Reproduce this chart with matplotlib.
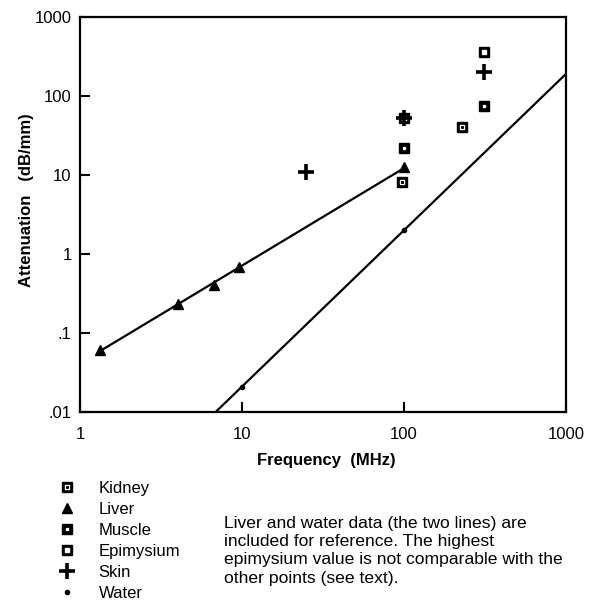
import numpy as np
import matplotlib
matplotlib.use('Agg')
import matplotlib.pyplot as plt
from matplotlib.legend_handler import HandlerTuple

plt.rcParams['font.family'] = ['Liberation Sans', 'DejaVu Sans']

# data (frequency in MHz, attenuation in dB/mm)
kidney_f = [97, 227]
kidney_a = [8.1, 40]
liver_f = [1.32, 4.0, 6.7, 9.6, 100]
liver_a = [0.061, 0.23, 0.40, 0.69, 12.5]
muscle_f = [100, 312]
muscle_a = [22, 75]
epimysium_f = [100, 312]
epimysium_a = [53, 364]
skin_f = [25, 100, 312]
skin_a = [10.9, 53, 203]
water_f = [10, 100]
water_a = [0.021, 2.0]

x_ticks = [1, 10, 100, 1000]
x_ticklabels = ['1', '10', '100', '1000']
y_ticks = [0.01, 0.1, 1, 10, 100, 1000]
y_ticklabels = ['.01', '.1', '1', '10', '100', '1000']

legend_labels = ['Kidney', 'Liver', 'Muscle', 'Epimysium', 'Skin', 'Water']
note = ('Liver and water data (the two lines) are\n'
        'included for reference. The highest\n'
        'epimysium value is not comparable with the\n'
        'other points (see text).')

W, H = 595, 604
fig = plt.figure(figsize=(W / 100, H / 100), dpi=100)
ax = fig.add_axes([80 / W, 1 - 412 / H, 486 / W, 395 / H])
ax.set_xscale('log')
ax.set_yscale('log')
ax.set_xlim(1, 1000)
ax.set_ylim(0.01, 1000)

## fitted lines in log space for liver and water
lf = np.polyfit(np.log10(liver_f), np.log10(liver_a), 1)
fx = np.array([min(liver_f), max(liver_f)])
ax.plot(fx, 10 ** np.polyval(lf, np.log10(fx)), color='black', lw=1.6, zorder=2)
wf = np.polyfit(np.log10(water_f), np.log10(water_a), 1)
wx = np.logspace(0.5, 3, 50)
ax.plot(wx, 10 ** np.polyval(wf, np.log10(wx)), color='black', lw=1.6, zorder=2)

sq = dict(marker='s', ls='none', color='black', ms=6.5, zorder=3)
h_kid = ax.plot(kidney_f, kidney_a, **sq)[0]
h_kid2 = ax.plot(kidney_f, kidney_a, marker='s', ls='none', color='white', ms=3.0, zorder=4)[0]
h_kid3 = ax.plot(kidney_f, kidney_a, marker='s', ls='none', color='black', ms=1.2, zorder=4)[0]
h_liv = ax.plot(liver_f, liver_a, marker='^', ls='none', color='black', ms=7.5, zorder=3)[0]
h_mus = ax.plot(muscle_f, muscle_a, **sq)[0]
h_mus2 = ax.plot(muscle_f, muscle_a, marker='s', ls='none', color='white', ms=1.4, zorder=4)[0]
h_epi = ax.plot(epimysium_f, epimysium_a, **sq)[0]
h_epi2 = ax.plot(epimysium_f, epimysium_a, marker='s', ls='none', color='white', ms=3.0, zorder=4)[0]
h_skin = ax.plot(skin_f, skin_a, marker='+', ls='none', color='black', ms=11, mew=2.6, zorder=5)[0]
h_wat = ax.plot(water_f, water_a, marker='o', ls='none', color='black', ms=3, zorder=3)[0]

ax.set_xticks(x_ticks)
ax.set_xticklabels(x_ticklabels)
ax.set_yticks(y_ticks)
ax.set_yticklabels(y_ticklabels)
ax.minorticks_off()
ax.tick_params(direction='in', length=7, width=1.5, labelsize=12)
ax.tick_params(axis='x', pad=11)
ax.tick_params(axis='y', pad=6)
for s in ax.spines.values():
    s.set_linewidth(1.6)

fig.text(27 / W, 1 - 200 / H, 'Attenuation   (dB/mm)', rotation=90, fontsize=12,
         fontweight='bold', ha='center', va='center')
fig.text(326 / W, 1 - 460 / H, 'Frequency  (MHz)', fontsize=12, fontweight='bold',
         ha='center', va='center')

handles = [(h_kid, h_kid2, h_kid3), h_liv, (h_mus, h_mus2), (h_epi, h_epi2), h_skin, h_wat]
fig.legend(handles, legend_labels, loc='upper left', bbox_to_anchor=(42 / W, 1 - 466 / H),
           frameon=False, fontsize=12, handlelength=1.2, handletextpad=1.3,
           labelspacing=0.36, handler_map={tuple: HandlerTuple(ndivide=1, pad=0)})

fig.text(224 / W, 1 - 516 / H, note, fontsize=12.6, ha='left', va='top', linespacing=1.27)

fig.savefig('out.png', dpi=100)
